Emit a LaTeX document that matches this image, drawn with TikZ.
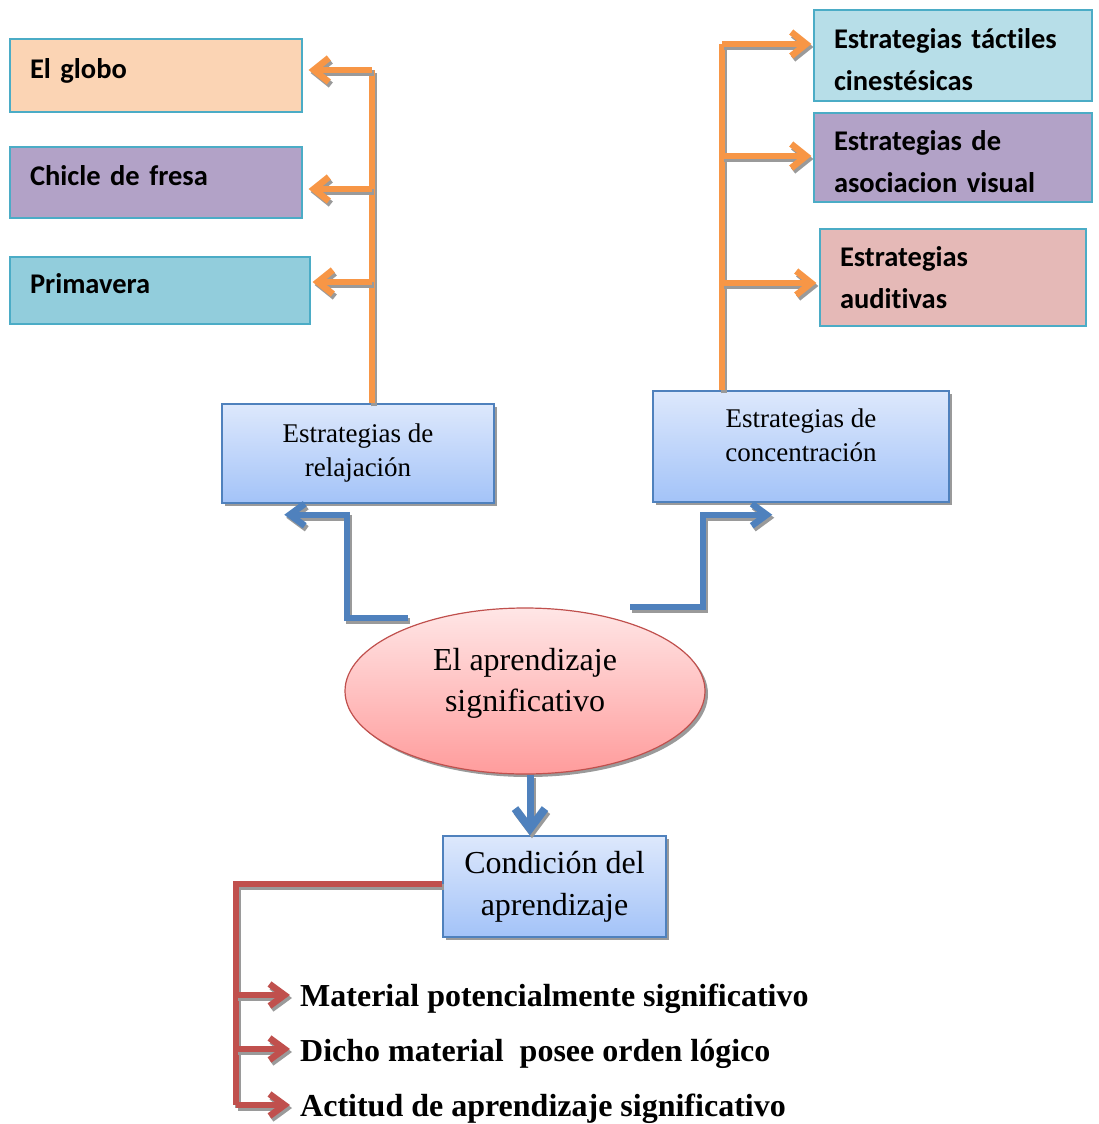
\documentclass[tikz,border=0pt]{standalone}
\usepackage{fontspec}
\setmainfont{Liberation Serif}
\newfontfamily\labelfont[Ligatures={NoCommon}]{Carlito}
\usetikzlibrary{arrows.meta}
\usetikzlibrary{shapes.geometric}
\usetikzlibrary{shadows}

\definecolor{naranja}{HTML}{F79646}
\definecolor{azul}{HTML}{4F81BD}
\definecolor{rojo}{HTML}{C0504D}
\definecolor{borde}{HTML}{4BACC6}
\definecolor{durazno}{HTML}{FBD4B4}
\definecolor{lila}{HTML}{B2A2C7}
\definecolor{turquesa}{HTML}{92CDDC}
\definecolor{celeste}{HTML}{B7DEE8}
\definecolor{rosa}{HTML}{E5B9B7}
\definecolor{azulclaro}{HTML}{DDE8FC}
\definecolor{azulmedio}{HTML}{A3C3F8}
\definecolor{rosaclaro}{HTML}{FFE6E6}
\definecolor{rosamedio}{HTML}{FF9C9C}
\definecolor{gris}{HTML}{9A9A9A}

\tikzset{
  sombra/.style={drop shadow={shadow xshift=3pt,shadow yshift=-3pt,fill=gris,opacity=1}},
  tema/.style={draw=borde,line width=1.2pt,inner xsep=20pt,align=left,
    font=\labelfont\bfseries\fontsize{28.5}{42}\selectfont},
  una linea/.style={text height=20pt,text depth=14pt},
  dos lineas/.style={text height=29pt},
  estrategia/.style={draw=azul,line width=1.5pt,top color=azulclaro,bottom color=azulmedio,
    sombra,align=center,font=\fontsize{27}{34}\selectfont},
  naranjo/.style={draw=naranja,line width=5.5pt},
  azulado/.style={draw=azul,line width=6pt},
  rojizo/.style={draw=rojo,line width=6pt},
  punta naranja/.style={-{Straight Barb[length=15pt,width=24pt,line width=6.5pt]}},
  punta azul/.style={-{Straight Barb[length=15pt,width=22pt,line width=6.5pt]}},
  punta grande/.style={-{Straight Barb[length=20pt,width=30pt,line width=8pt]}},
  punta roja/.style={-{Straight Barb[length=15pt,width=22pt,line width=6.5pt]}}
}

% connector with a grey shadow underneath
\newcommand{\conector}[2]{%
  \begin{scope}[transform canvas={shift={(2pt,-3pt)}}]
    \draw[#1,draw=gris] #2;
  \end{scope}
  \draw[#1] #2;}

\begin{document}
\begin{tikzpicture}[x=1pt,y=-1pt]
	\useasboundingbox (0,0) rectangle (1099,1124);
	
	% Draw the left topic boxes
	\node[tema,una linea,fill=durazno,minimum width=292pt,minimum height=73pt,text width=252pt] (globo) at (156,75.5) {El globo};
	\node[tema,una linea,fill=lila,minimum width=292pt,minimum height=71pt,text width=252pt] (chicle) at (156,182.5) {Chicle de fresa};
	\node[tema,una linea,fill=turquesa,minimum width=300pt,minimum height=67pt,text width=260pt] (primavera) at (160,290.5) {Primavera};
	
	% Draw the right topic boxes
	\node[tema,dos lineas,fill=celeste,minimum width=278pt,minimum height=91pt,text width=238pt] (tactil) at (953,55.5) {Estrategias táctiles\\cinestésicas};
	\node[tema,dos lineas,fill=lila,minimum width=278pt,minimum height=89pt,text width=238pt] (visual) at (953,157.5) {Estrategias de\\asociacion visual};
	\node[tema,fill=rosa,minimum width=266pt,minimum height=97pt,text width=226pt] (auditiva) at (953,277.5) {Estrategias\\auditivas};
	
	% Draw the strategy boxes
	\node[estrategia,minimum width=272pt,minimum height=99pt] (relaj) at (358,453.5) {Estrategias de\\relajación};
	\node[estrategia,minimum width=296pt,minimum height=111pt] (concen) at (801,446.5) {};
	\node[align=center,font=\fontsize{27}{34}\selectfont] (concentexto) at (801,435) {Estrategias de\\concentración};
	
	% Draw the central ellipse
	\node[ellipse,draw=rojo,line width=1.2pt,top color=rosaclaro,bottom color=rosamedio,
	  sombra,minimum width=360pt,minimum height=166pt] (apr) at (525,691) {};
	\node[align=center,font=\fontsize{32}{41}\selectfont] (aprtexto) at (525,683) {El aprendizaje\\significativo};
	
	% Draw the condition box
	\node[estrategia,minimum width=223pt,minimum height=101pt,font=\fontsize{32}{42}\selectfont] (cond) at (554.5,886.5) {Condición del\\aprendizaje};
	
	% Draw the conditions
	\node[anchor=base west,inner sep=0pt,font=\bfseries\fontsize{32}{34}\selectfont] (mat) at (300,1006) {Material potencialmente significativo};
	\node[anchor=base west,inner sep=0pt,font=\bfseries\fontsize{32}{34}\selectfont] (dicho) at (300,1061) {Dicho material\ \ posee orden lógico};
	\node[anchor=base west,inner sep=0pt,font=\bfseries\fontsize{32}{34}\selectfont] (actitud) at (300,1116) {Actitud de aprendizaje significativo};
	
	% Draw the orange branches on the left
	\coordinate (li1) at (372,70);
	\coordinate (li2) at (372,189);
	\coordinate (li3) at (372,282);
	\conector{naranjo}{(relaj.north -| li1) -- (li1)}
	\conector{naranjo,punta naranja}{(li1) -- ([xshift=6pt]li1 -| globo.east)}
	\conector{naranjo,punta naranja}{(li2) -- ([xshift=6pt]li2 -| chicle.east)}
	\conector{naranjo,punta naranja}{(li3) -- ([xshift=2pt]li3 -| primavera.east)}
	
	% Draw the orange branches on the right
	\coordinate (ld1) at (722,44);
	\coordinate (ld2) at (722,156);
	\coordinate (ld3) at (722,283);
	\conector{naranjo}{(concen.north -| ld1) -- (ld1)}
	\conector{naranjo,punta naranja}{(ld1) -- ([xshift=-2pt]ld1 -| tactil.west)}
	\conector{naranjo,punta naranja}{(ld2) -- ([xshift=-2pt]ld2 -| visual.west)}
	\conector{naranjo,punta naranja}{(ld3) -- ([xshift=-3pt]ld3 -| auditiva.west)}
	
	% Draw the blue connectors
	\coordinate (az1) at (408,618);
	\coordinate (az2) at (630,607);
	\conector{azulado,punta azul}{(az1) -- (347,618) |- ([xshift=63pt,yshift=-11pt]relaj.south west)}
	\conector{azulado,punta azul}{(az2) -- (703,607) |- ([xshift=120pt,yshift=-12pt]concen.south west)}
	\conector{azulado,line width=7pt,punta grande}{([xshift=5pt]apr.south) -- ([xshift=5pt]apr.south |- cond.north)}
	
	% Draw the red tree
	\coordinate (ro1) at (236,995);
	\coordinate (ro2) at (236,1049);
	\coordinate (ro3) at (236,1105);
	\conector{rojizo}{([yshift=3pt]cond.west) -| (ro3)}
	\conector{rojizo,punta roja}{(ro1) -- ([xshift=-10pt]ro1 -| mat.west)}
	\conector{rojizo,punta roja}{(ro2) -- ([xshift=-10pt]ro2 -| dicho.west)}
	\conector{rojizo,punta roja}{(ro3) -- ([xshift=-10pt]ro3 -| actitud.west)}
	
\end{tikzpicture}
\end{document}
